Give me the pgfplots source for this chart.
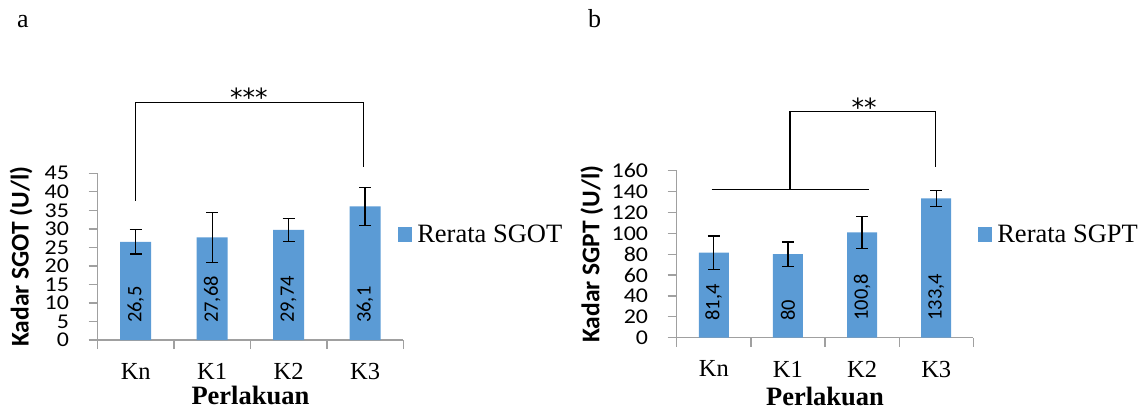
\documentclass[border=0pt]{standalone}
\usepackage{pgfplots}
\usepackage{pgfplotstable}
\pgfplotsset{compat=1.18}
\usepackage{fontspec}
\setmainfont{Liberation Serif}
\newfontfamily\carlito{Carlito}
\newfontfamily\dejavu{DejaVu Sans}
\definecolor{barblue}{HTML}{5B9BD5}
\definecolor{axgray}{HTML}{A0A0A0}

\pgfplotstableread{
x y err zero label
0 26.5 3.25 0 26,5
1 27.68 6.7 0 27,68
2 29.74 3.1 0 29,74
3 36.1 5.1 0 36,1
}\sgot

\pgfplotstableread{
x y err zero label
0 81.4 16 0 81,4
1 80 11.8 0 80
2 100.8 15 0 100,8
3 133.4 7.5 0 133,4
}\sgpt

\tikzset{stars/.style={font=\dejavu\fontsize{25}{25}\selectfont, inner sep=0pt, anchor=base}}

\pgfplotsset{
  mypanel/.style={
    scale only axis,
    clip=false,
    /pgf/number format/assume math mode=true,
    xmin=-0.5, xmax=3.5, ymin=0,
    axis x line*=bottom, axis y line*=left,
    axis line style={axgray, line width=1.3pt},
    tick align=outside,
    major tick length=9pt,
    tick style={axgray, line width=1.3pt},
    xtick={-0.5,0.5,1.5,2.5,3.5},
    x tick label as interval,
    xticklabels={Kn,K1,K2,K3},
    xticklabel style={font=\fontsize{24.5}{24.5}\selectfont, anchor=north, inner sep=0pt, yshift=-14pt},
    yticklabel style={font=\carlito\fontsize{21}{21}\selectfont, xscale=1.14, anchor=east, inner sep=0pt, xshift=-17pt},
    xlabel style={font=\bfseries\fontsize{26.5}{26.5}\selectfont, anchor=base, inner sep=0pt},
    ylabel style={font=\carlito\bfseries\fontsize{25.5}{25.5}\selectfont, anchor=center, inner sep=0pt},
    legend style={draw=none, fill=none, anchor=west, inner sep=0pt, outer sep=0pt,
      font=\fontsize{26.5}{26.5}\selectfont, cells={anchor=west},
      nodes={inner sep=0pt}, /tikz/every odd column/.style={column sep=5.5pt}},
    legend image code/.code={\fill[barblue] (0pt,-7.5pt) rectangle (13.5pt,7.5pt);},
  },
  barplot/.style={ybar, bar width=#1, bar shift=0pt, fill=barblue, draw=none,
    error bars/.cd, y dir=both, y explicit,
    error bar style={black, line width=1.3pt},
    error mark options={black, mark size=6pt, line width=1.3pt, rotate=90}},
  labplot/.style={draw=none, mark=none, forget plot, nodes near coords,
    point meta=explicit symbolic,
    nodes near coords style={font=\carlito\fontsize{20.5}{20.5}\selectfont, black,
      anchor=west, yshift=17pt, rotate=90, inner sep=0pt}},
}

\begin{document}
\begin{tikzpicture}
\useasboundingbox (0,0) rectangle (1147pt,-409pt);
\node[anchor=base west, inner sep=0pt, font=\fontsize{26}{26}\selectfont] at (17pt,-28pt) {a};
\node[anchor=base west, inner sep=0pt, font=\fontsize{26}{26}\selectfont] at (588pt,-28pt) {b};

\begin{axis}[mypanel,
  at={(97.5pt,-340pt)}, anchor=south west,
  width=305.8pt, height=166.7pt,
  ymax=45, ytick={0,5,...,45},
  xlabel={Perlakuan},
  xlabel style={at={(axis description cs:0.5,-0.385)}},
  ylabel={Kadar SGOT (U/l)},
  ylabel style={at={(axis description cs:-0.25,0.5)}},
  legend style={at={(axis description cs:0.9836,0.633)}},
]
\addplot[barplot=31pt] table[x=x, y=y, y error=err]{\sgot};
\addlegendentry{Rerata SGOT}
\addplot[labplot] table[x=x, y=zero, meta=label]{\sgot};
\draw[black, line width=1.3pt] (axis cs:0,37.6) -- (axis cs:0,64.1) -- (axis cs:2.98,64.1) -- (axis cs:2.98,46.7);
\node[stars] at (axis cs:1.48,62.9) {***};
\end{axis}

\begin{axis}[mypanel,
  at={(676.7pt,-337.7pt)}, anchor=south west,
  width=296.6pt, height=167pt,
  ymax=160, ytick={0,20,...,160},
  xlabel={Perlakuan},
  xlabel style={at={(axis description cs:0.5,-0.405)}},
  ylabel={Kadar SGPT (U/l)},
  ylabel style={at={(axis description cs:-0.286,0.5)}},
  legend style={at={(axis description cs:1.0169,0.618)}},
]
\addplot[barplot=30pt] table[x=x, y=y, y error=err]{\sgpt};
\addlegendentry{Rerata SGPT}
\addplot[labplot] table[x=x, y=zero, meta=label]{\sgpt};
\draw[black, line width=1.3pt] (axis cs:-0.028,142.1) -- (axis cs:2.093,142.1);
\draw[black, line width=1.3pt] (axis cs:1.028,142.1) -- (axis cs:1.028,216.5) -- (axis cs:2.993,216.5) -- (axis cs:2.993,163.6);
\node[stars] at (axis cs:2.026,212.3) {**};
\end{axis}
\end{tikzpicture}
\end{document}
